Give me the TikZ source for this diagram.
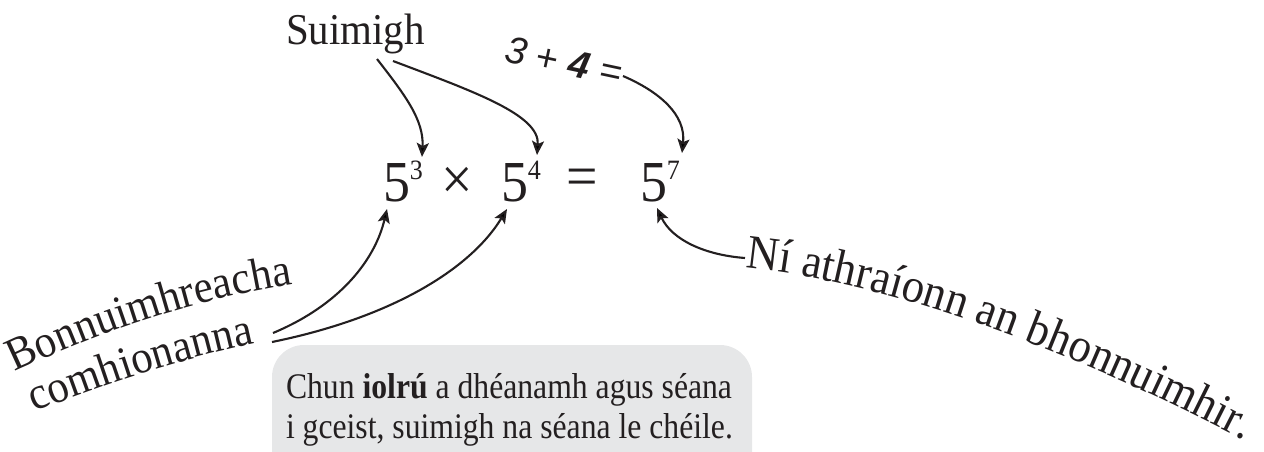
\documentclass[tikz,border=0pt]{standalone}
\usepackage{fontspec}
\setmainfont{Liberation Serif}[FakeStretch=0.93]
\newfontfamily\notefont{Liberation Serif}[FakeStretch=0.88]
\newfontfamily\sumfont{Liberation Sans}
\usetikzlibrary{arrows.meta,decorations.text}
\definecolor{boxgray}{RGB}{230,231,232}
\definecolor{ink}{RGB}{35,31,32}
\newcommand{\fsz}[1]{\fontsize{#1}{#1}\selectfont}
\tikzset{
  lbl/.style={inner sep=0pt, outer sep=0pt, text=ink},
  conn/.style={draw=ink, line width=2.1pt, -{Stealth[length=14pt,width=12pt,inset=3pt]}},
  curvedlbl/.style={decorate, decoration={text along path, text color=ink, text={#1}}},
}
\begin{document}
\begin{tikzpicture}[x=1pt,y=-1pt]
\useasboundingbox (0,0) rectangle (1264,452);
\begin{scope}
  \clip (0,0) rectangle (1264,452);
  \fill[boxgray, rounded corners=32pt] (272,345) rectangle (752,500);
\end{scope}

% labels
\node[lbl, anchor=base west] (su) at (286,45) {\fsz{44}Suimigh};
\node[lbl, anchor=base west, rotate=-12] (sum) at (503,62)
  {\sumfont\fsz{38}\itshape 3 + \textbf{4} =};

% equation
\node[lbl, anchor=base west] (t1) at (383,201) {\fsz{58}5\raisebox{22pt}{\fsz{28}3}};
\node[lbl] (times) at (457.5,183) {\fsz{60}×};
\node[lbl, anchor=base west] (t2) at (501,201) {\fsz{58}5\raisebox{22pt}{\fsz{28}4}};
\node[lbl] (eqs) at (582.5,183) {\fsz{60}=};
\node[lbl, anchor=base west] (t3) at (640,201) {\fsz{58}5\raisebox{22pt}{\fsz{28}7}};

% box text
\node[lbl, anchor=north west, align=left, font=\notefont\fontsize{36}{40}\selectfont] (note) at (286,373)
  {Chun \textbf{iolrú} a dhéanamh agus séana\\ i gceist, suimigh na séana le chéile.};

% curved labels
\coordinate (bstart) at (15,372);
\coordinate (cstart) at (35,412);
\coordinate (nstart) at (745,268);
\path[curvedlbl={|\fsz{46}|Bonnuimhreacha}] (bstart) .. controls (100,332) and (190,300) .. (300,283) -- (370,272);
\path[curvedlbl={|\fsz{46}|comhionanna}] (cstart) .. controls (100,386) and (175,360) .. (262,342) -- (330,328);
\path[curvedlbl={|\fsz{48}|Ní athraíonn an bhonnuimhir.}] (nstart) .. controls (900,283) and (1100,360) .. (1300,470);

% connectors
\coordinate (a1s) at (377,59);  \coordinate (a1e) at (422,157);
\coordinate (a2s) at (393,61);  \coordinate (a2e) at (537,155);
\coordinate (a3s) at (623,76);  \coordinate (a3e) at (682,153);
\coordinate (a4s) at (273,333); \coordinate (a4e) at (387,209);
\coordinate (a5s) at (272,342); \coordinate (a5e) at (507,209);
\coordinate (a6s) at (745,258); \coordinate (a6e) at (657,208);
\draw[conn] (a1s) .. controls (405,95) and (424,120) .. (a1e);
\draw[conn] (a2s) .. controls (475,92) and (540,115) .. (a2e);
\draw[conn] (a3s) .. controls (660,92) and (686,115) .. (a3e);
\draw[conn] (a4s) .. controls (340,305) and (375,260) .. (a4e);
\draw[conn] (a5s) .. controls (390,318) and (470,270) .. (a5e);
\draw[conn] (a6s) .. controls (705,255) and (672,240) .. (a6e);
\end{tikzpicture}
\end{document}
